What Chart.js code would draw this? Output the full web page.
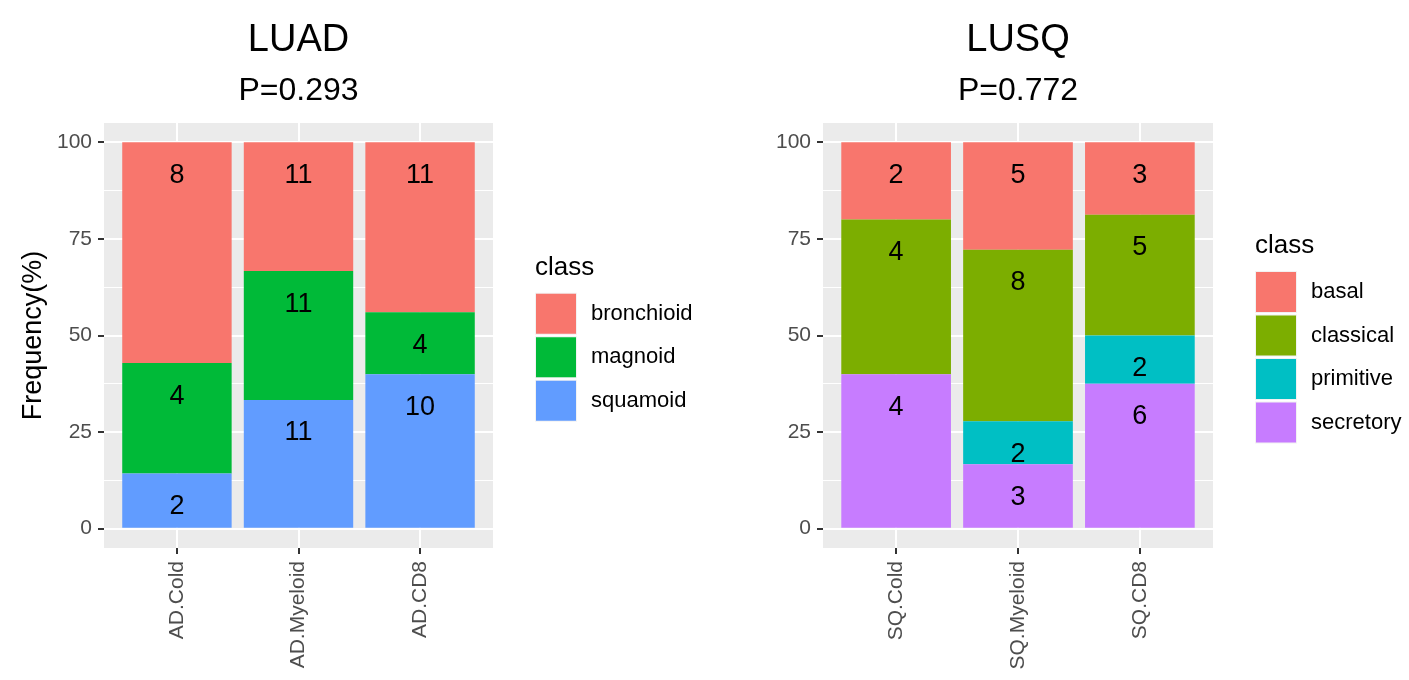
<!DOCTYPE html>
<html>
<head>
<meta charset="utf-8">
<script src="https://cdn.jsdelivr.net/npm/chart.js@4.4.1/dist/chart.umd.min.js"></script>
<style>
  body { margin: 0; background: #fff; }
  #wrap { position: relative; width: 1409px; height: 680px; }
  canvas { position: absolute; top: 0; }
</style>
</head>
<body>
<div id="wrap">
  <canvas id="luad" width="705" height="680" style="left:0"></canvas>
  <canvas id="lusq" width="704" height="680" style="left:705px"></canvas>
</div>
<script>
const FONT = "'Liberation Sans', Arial, sans-serif";

const luadGroups = ["AD.Cold", "AD.Myeloid", "AD.CD8"];
const luadClasses = ["bronchioid", "magnoid", "squamoid"];
const luadColors = ["#F8766D", "#00BA38", "#619CFF"];
const luadBronchioid = [8, 11, 11];
const luadMagnoid = [4, 11, 4];
const luadSquamoid = [2, 11, 10];

const lusqGroups = ["SQ.Cold", "SQ.Myeloid", "SQ.CD8"];
const lusqClasses = ["basal", "classical", "primitive", "secretory"];
const lusqColors = ["#F8766D", "#7CAE00", "#00BFC4", "#C77CFF"];
const lusqBasal = [2, 5, 3];
const lusqClassical = [4, 8, 5];
const lusqPrimitive = [0, 2, 2];
const lusqSecretory = [4, 3, 6];

const yMajor = [0, 25, 50, 75, 100];
const yMinor = [12.5, 37.5, 62.5, 87.5];

// gray panel, count labels, titles and ggplot-like legend
const panelPlugin = {
  id: "panel",
  beforeDraw(chart) {
    const { ctx, chartArea: a } = chart;
    ctx.save();
    ctx.fillStyle = "#EBEBEB";
    ctx.fillRect(a.left, a.top, a.right - a.left, a.bottom - a.top);
    ctx.restore();
  },
  afterDatasetsDraw(chart) {
    const ctx = chart.ctx;
    ctx.save();
    ctx.font = "27px " + FONT;
    ctx.fillStyle = "#000";
    ctx.textAlign = "center";
    ctx.textBaseline = "middle";
    chart.data.datasets.forEach((ds, k) => {
      chart.getDatasetMeta(k).data.forEach((bar, i) => {
        if (!ds.counts[i]) return;
        ctx.fillText(String(ds.counts[i]), bar.x, bar.y + 33);
      });
    });
    ctx.restore();
  },
  afterDraw(chart, args, o) {
    const { ctx, chartArea: a } = chart;
    const cx = (a.left + a.right) / 2;
    ctx.save();
    ctx.fillStyle = "#000";
    ctx.textAlign = "center";
    ctx.textBaseline = "alphabetic";
    ctx.font = "38px " + FONT;
    ctx.fillText(o.title, cx, 51);
    ctx.font = "32px " + FONT;
    ctx.fillText(o.pval, cx, 100);

    // legend
    const n = o.classes.length;
    const step = 43.5;
    const x0 = a.right + 42;
    const top = (a.top + a.bottom) / 2 + 22.5 - n * step / 2;
    ctx.textAlign = "left";
    ctx.font = "26px " + FONT;
    ctx.fillText("class", x0, top - 18);
    ctx.font = "22px " + FONT;
    ctx.textBaseline = "middle";
    o.classes.forEach((name, j) => {
      const y = top + j * step;
      ctx.fillStyle = "#F2F2F2";
      ctx.fillRect(x0, y, 42, 42);
      ctx.fillStyle = o.colors[j];
      ctx.fillRect(x0 + 1, y + 1, 40, 40);
      ctx.fillStyle = "#000";
      ctx.fillText(name, x0 + 56, y + 21);
    });
    ctx.restore();
  }
};

function makeChart(id, cfg) {
  const { title, pval, groups, classes, colors, counts, yTitle, yWidth, padRight } = cfg;
  const totals = groups.map((g, i) => counts.reduce((s, c) => s + c[i], 0));
  // first class sits on top of the stack, so reverse for Chart.js
  const datasets = classes.map((name, k) => ({
    label: name,
    counts: counts[k],
    data: counts[k].map((v, i) => ({ x: i + 1, y: v / totals[i] * 100 })),
    backgroundColor: colors[k],
    borderWidth: 0,
    barPercentage: 0.9,
    categoryPercentage: 1
  })).reverse();

  const tickFont = { family: FONT, size: 21 };
  return new Chart(document.getElementById(id), {
    type: "bar",
    data: { datasets },
    plugins: [panelPlugin],
    options: {
      responsive: false,
      animation: false,
      layout: { padding: { left: 0, right: padRight, top: 123, bottom: 0 } },
      plugins: {
        legend: { display: false },
        tooltip: { enabled: false },
        panel: { title, pval, classes, colors }
      },
      scales: {
        x: {
          type: "linear",
          min: 0.4,
          max: 3.6,
          offset: false,
          stacked: true,
          afterBuildTicks: s => { s.ticks = groups.map((g, i) => ({ value: i + 1 })); },
          afterFit: s => { s.height = 132; },
          ticks: {
            callback: v => groups[v - 1],
            autoSkip: false,
            minRotation: 90,
            maxRotation: 90,
            padding: 7,
            color: "#4D4D4D",
            font: tickFont
          },
          grid: { offset: false, color: "#FFFFFF", lineWidth: 2, tickColor: "#333333", tickLength: 6, tickWidth: 2 },
          border: { display: false }
        },
        y: {
          min: -5,
          max: 105,
          stacked: true,
          afterBuildTicks: s => {
            s.ticks = yMajor.concat(yMinor).sort((p, q) => p - q).map(v => ({ value: v }));
          },
          afterFit: s => { s.width = yWidth; },
          ticks: {
            callback: v => (yMajor.includes(v) ? String(v) : ""),
            autoSkip: false,
            padding: 6,
            color: "#4D4D4D",
            font: tickFont
          },
          grid: {
            color: "#FFFFFF",
            lineWidth: c => (yMajor.includes(c.tick.value) ? 2 : 1),
            tickColor: c => (yMajor.includes(c.tick.value) ? "#333333" : "rgba(0,0,0,0)"),
            tickLength: 6,
            tickWidth: 2
          },
          border: { display: false },
          title: {
            display: !!yTitle,
            text: yTitle,
            color: "#000",
            font: { family: FONT, size: 27 },
            padding: { top: 17, bottom: 0 }
          }
        }
      }
    }
  });
}

makeChart("luad", {
  title: "LUAD",
  pval: "P=0.293",
  groups: luadGroups,
  classes: luadClasses,
  colors: luadColors,
  counts: [luadBronchioid, luadMagnoid, luadSquamoid],
  yTitle: "Frequency(%)",
  yWidth: 104,
  padRight: 212
});

makeChart("lusq", {
  title: "LUSQ",
  pval: "P=0.772",
  groups: lusqGroups,
  classes: lusqClasses,
  colors: lusqColors,
  counts: [lusqBasal, lusqClassical, lusqPrimitive, lusqSecretory],
  yTitle: "",
  yWidth: 118,
  padRight: 196
});
</script>
</body>
</html>
